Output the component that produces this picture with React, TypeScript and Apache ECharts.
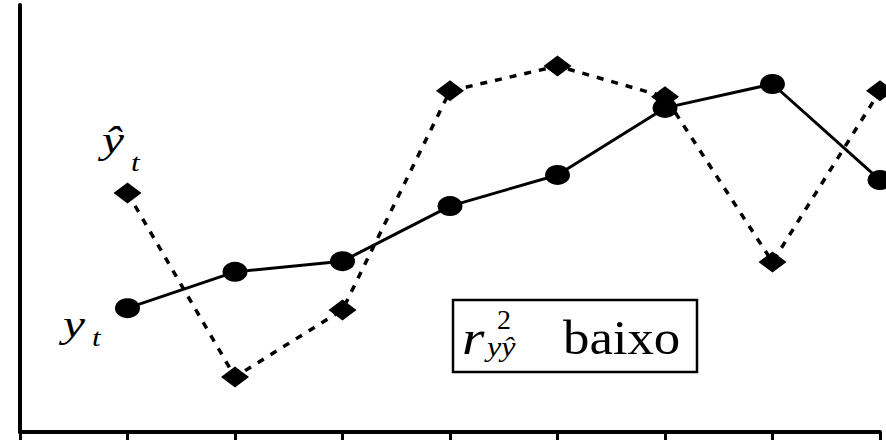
import React, { useEffect, useRef } from "react";
import * as echarts from "echarts";

// Time periods (t0 sits on the vertical axis, no observation there)
const periods = ["0", "1", "2", "3", "4", "5", "6", "7", "8"];
// Observed series y_t
const observed = [null, 29.0, 37.5, 40.0, 52.9, 60.2, 75.9, 81.5, 59.0];
// Fitted series ŷ_t
const fitted = [null, 56.0, 12.9, 28.6, 79.9, 85.7, 78.5, 39.8, 79.9];

const SERIF = '"Liberation Serif", "DejaVu Serif", serif';

export default function App() {
  const ref = useRef<HTMLDivElement>(null);

  useEffect(() => {
    if (!ref.current) return;
    const chart = echarts.init(ref.current, null, { renderer: "svg" });
    chart.setOption({
      animation: false,
      backgroundColor: "#ffffff",
      grid: { left: 20, right: 6, top: 5, bottom: 8, containLabel: false },
      xAxis: {
        type: "category",
        data: periods,
        boundaryGap: false,
        axisLine: { show: true, lineStyle: { color: "#000", width: 4 } },
        axisTick: { show: true, inside: false, length: 9, lineStyle: { color: "#000", width: 3 } },
        axisLabel: { show: false },
        splitLine: { show: false },
      },
      yAxis: {
        type: "value",
        min: 0,
        max: 100,
        axisLine: { show: true, lineStyle: { color: "#000", width: 4 } },
        axisTick: { show: false },
        axisLabel: { show: false },
        splitLine: { show: false },
      },
      series: [
        {
          name: "yhat",
          type: "line",
          data: fitted,
          symbol: "diamond",
          symbolSize: [28, 21],
          itemStyle: { color: "#000" },
          lineStyle: { color: "#000", width: 3.5, type: [7, 8] },
          z: 2,
        },
        {
          name: "y",
          type: "line",
          data: observed,
          symbol: "circle",
          symbolSize: [25, 20],
          itemStyle: { color: "#000" },
          lineStyle: { color: "#000", width: 3 },
          z: 3,
        },
      ],
      graphic: [
        // ŷ_t label
        { type: "text", x: 102, y: 121, scaleX: 1.3, style: { text: "ŷ", font: `italic 38px ${SERIF}`, fill: "#000" } },
        { type: "text", x: 131, y: 149, scaleX: 1.2, style: { text: "t", font: `italic 26px ${SERIF}`, fill: "#000" } },
        // y_t label
        { type: "text", x: 63, y: 305, scaleX: 1.3, style: { text: "y", font: `italic 38px ${SERIF}`, fill: "#000" } },
        { type: "text", x: 92, y: 324, scaleX: 1.2, style: { text: "t", font: `italic 26px ${SERIF}`, fill: "#000" } },
        // boxed annotation
        {
          type: "rect",
          shape: { x: 453, y: 300, width: 244, height: 72 },
          style: { fill: "#fff", stroke: "#000", lineWidth: 2.5 },
          z: 10,
        },
        { type: "text", x: 462, y: 314, z: 11, scaleX: 1.2, style: { text: "r", font: `italic 48px ${SERIF}`, fill: "#000" } },
        { type: "text", x: 497, y: 305, z: 11, style: { text: "2", font: `28px ${SERIF}`, fill: "#000" } },
        { type: "text", x: 487, y: 333, z: 11, scaleX: 1.15, style: { text: "yŷ", font: `italic 28px ${SERIF}`, fill: "#000" } },
        { type: "text", x: 563, y: 314, z: 11, scaleX: 1.1, style: { text: "baixo", font: `48px ${SERIF}`, fill: "#000" } },
      ],
    });
    return () => chart.dispose();
  }, []);

  return (
    <div
      ref={ref}
      style={{ position: "fixed", left: 0, top: 0, width: 886, height: 440, background: "#fff" }}
    />
  );
}
